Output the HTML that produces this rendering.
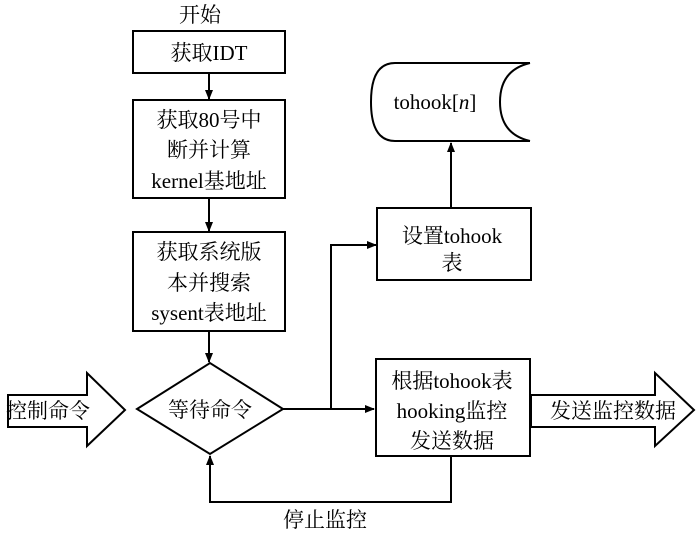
<!DOCTYPE html>
<html><head><meta charset="utf-8"><style>body{margin:0;background:#fff}svg{display:block}</style></head><body>
<svg width="700" height="538" viewBox="0 0 700 538" xmlns="http://www.w3.org/2000/svg" font-family="Liberation Serif, Noto Serif CJK SC, serif" font-size="21" fill="#000">
<defs><marker id="a" markerWidth="10" markerHeight="10" refX="9" refY="5" orient="auto" markerUnits="userSpaceOnUse"><path d="M0,1 L10,5 L0,9 Z" fill="#000"/></marker></defs>
<g fill="none" stroke="#000" stroke-width="2">
<rect x="133" y="31" width="152" height="42"/>
<rect x="133" y="100" width="152" height="98"/>
<rect x="133" y="232" width="152" height="99"/>
<path d="M137,409 L210,363 L283,409 L210,454 Z"/>
<rect x="376" y="359" width="154" height="97"/>
<rect x="377" y="208" width="154" height="72"/>
<path d="M530,63 L395,63 Q371,63 371,102 Q371,141 395,141 L530,141"/>
<path d="M530,63 Q500,70 500,102 Q500,134 530,141"/>
<path d="M8,395 L87,395 L87,373 L125,410 L87,446 L87,427 L8,427 Z"/>
<path d="M531,395 L655,395 L655,373 L694,410 L655,446 L655,427 L531,427 Z"/>
<path d="M209,73 L209,99" marker-end="url(#a)"/>
<path d="M209,198 L209,231" marker-end="url(#a)"/>
<path d="M209,331 L209,362" marker-end="url(#a)"/>
<path d="M283,409 L374,409" marker-end="url(#a)"/>
<path d="M331,409 L331,245 L376,245" marker-end="url(#a)"/>
<path d="M451,208 L451,143" marker-end="url(#a)"/>
<path d="M451,456 L451,502 L210,502 L210,456" marker-end="url(#a)"/>
</g>
<g text-anchor="middle">
<text x="200" y="22">开始</text>
<text x="209" y="60">获取IDT</text>
<text x="209" y="127">获取80号中</text>
<text x="209" y="157">断并计算</text>
<text x="209" y="188">kernel基地址</text>
<text x="209" y="259">获取系统版</text>
<text x="209" y="290">本并搜索</text>
<text x="209" y="320">sysent表地址</text>
<text x="210" y="417">等待命令</text>
<text x="452" y="388">根据tohook表</text>
<text x="452" y="418">hooking监控</text>
<text x="452" y="448">发送数据</text>
<text x="452" y="243">设置tohook</text>
<text x="452" y="270">表</text>
<text x="435" y="109">tohook[<tspan font-style="italic">n</tspan>]</text>
<text x="48" y="418">控制命令</text>
<text x="613" y="418">发送监控数据</text>
<text x="325" y="527">停止监控</text>
</g>
</svg>
</body></html>
